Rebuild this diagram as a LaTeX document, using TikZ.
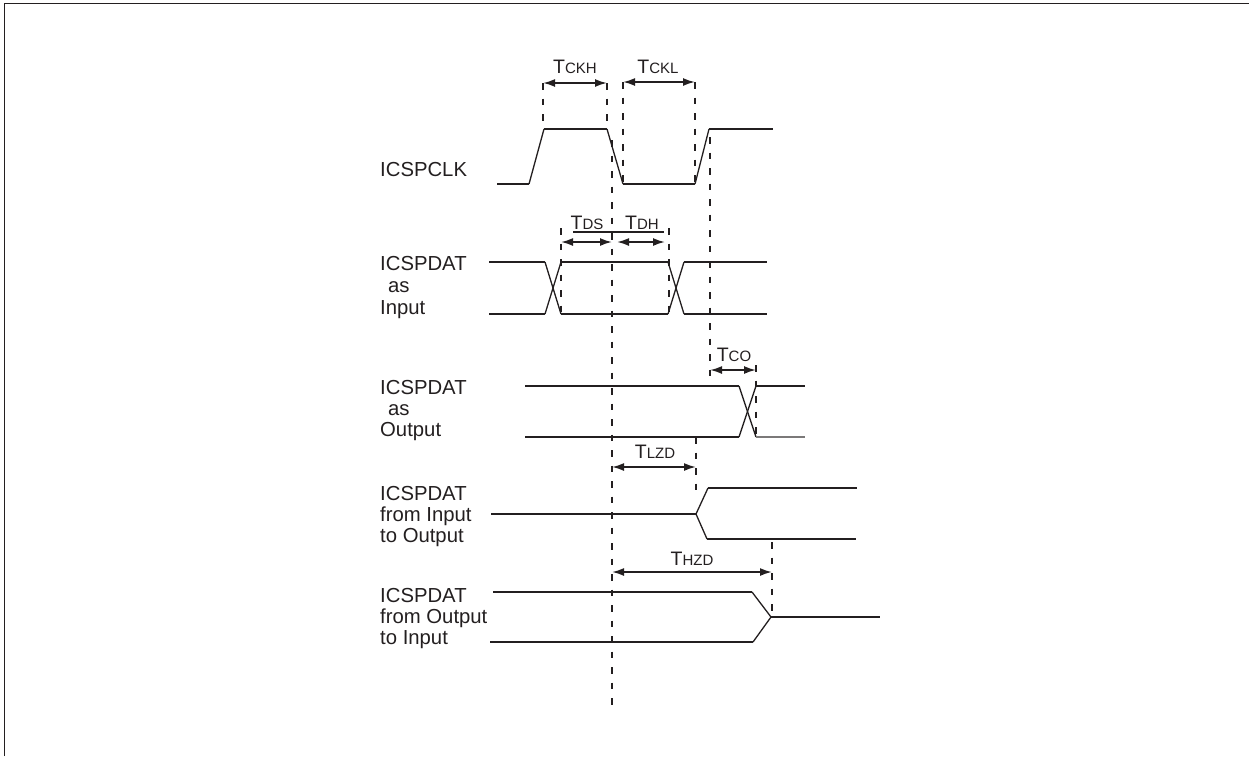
\documentclass[tikz,border=0pt]{standalone}
\usepackage{fontspec}
\setmainfont{Liberation Sans}
\usetikzlibrary{arrows.meta}
\definecolor{ink}{HTML}{231F20}
\tikzset{
  sig/.style={draw=ink, line width=2.1pt},
  edge/.style={draw=ink, line width=1.3pt},
  vdash/.style={draw=ink, line width=2.1pt, dash pattern=on 6.5pt off 9pt},
  dim/.style={draw=ink, line width=1.8pt, {Latex[length=12pt,width=8pt]}-{Latex[length=12pt,width=8pt]}},
  lbl/.style={anchor=base west, inner sep=0pt, text=ink, font=\fontsize{20.3}{22}\selectfont},
  tlbl/.style={anchor=base, inner sep=0pt, text=ink}
}
\newcommand{\tsub}[1]{{\fontsize{19.5}{19.5}\selectfont T\fontsize{15}{15}\selectfont #1}}
\begin{document}
\begin{tikzpicture}[x=1pt,y=-1pt]
\useasboundingbox (0,0) rectangle (1249,756);
% frame
\draw[ink, line width=1.4pt] (4.5,756) -- (4.5,3.5) -- (1249,3.5);

% labels
\node[lbl] (l1) at (380,176) {ICSPCLK};
\node[lbl] (l2a) at (380,270) {ICSPDAT};
\node[lbl] (l2b) at (388,292) {as};
\node[lbl] (l2c) at (380,314) {Input};
\node[lbl] (l3a) at (380,394) {ICSPDAT};
\node[lbl] (l3b) at (388,415) {as};
\node[lbl] (l3c) at (380,436) {Output};
\node[lbl] (l4a) at (380,500) {ICSPDAT};
\node[lbl] (l4b) at (380,521) {from Input};
\node[lbl] (l4c) at (380,542) {to Output};
\node[lbl] (l5a) at (380,602) {ICSPDAT};
\node[lbl] (l5b) at (380,623) {from Output};
\node[lbl] (l5c) at (380,644) {to Input};

% timing labels
\node[tlbl] (tckh) at (575,73) {\tsub{CKH}};
\node[tlbl] (tckl) at (658,73) {\tsub{CKL}};
\node[tlbl] (tds) at (587,229) {\tsub{DS}};
\node[tlbl] (tdh) at (642,229) {\tsub{DH}};
\node[tlbl] (tco) at (734,361) {\tsub{CO}};
\node[tlbl] (tlzd) at (655,458) {\tsub{LZD}};
\node[tlbl] (thzd) at (692,565) {\tsub{HZD}};
\draw[ink, line width=1.6pt] (573,232) -- (664,232);

% dashed guides
\draw[vdash] (612,140) -- (612,705);
\draw[vdash] (543,83) -- (543,129);
\draw[vdash] (607,83) -- (607,129);
\draw[vdash] (623,82) -- (623,184);
\draw[vdash] (695,82) -- (695,184);
\draw[vdash] (710,137) -- (710,387);
\draw[vdash] (561,228) -- (561,317);
\draw[vdash] (669,228) -- (669,317);
\draw[vdash] (756,365) -- (756,440);
\draw[vdash] (696,437) -- (696,493);
\draw[vdash] (772,542) -- (772,617);

% dimension arrows
\draw[dim] (543,83) -- (607,83);
\draw[dim] (623,82) -- (695,82);
\draw[dim] (561,242) -- (612,242);
\draw[dim] (617,242) -- (665,242);
\draw[dim] (710,370) -- (756,370);
\draw[dim] (612,467) -- (696,467);
\draw[dim] (612,572) -- (772,572);

% ICSPCLK
\draw[sig] (497,184) -- (529,184);
\draw[edge] (529,184) -- (544,129);
\draw[sig] (544,129) -- (607,129);
\draw[edge] (607,129) -- (623,184);
\draw[sig] (623,184) -- (695,184);
\draw[edge] (695,184) -- (709,129);
\draw[sig] (709,129) -- (773,129);

% ICSPDAT as Input
\draw[sig] (489,262) -- (545,262);
\draw[sig] (489,314) -- (545,314);
\draw[edge] (545,262) -- (561,314);
\draw[edge] (545,314) -- (561,262);
\draw[sig] (561,262) -- (668,262);
\draw[sig] (561,314) -- (668,314);
\draw[edge] (668,262) -- (684,314);
\draw[edge] (668,314) -- (684,262);
\draw[sig] (684,262) -- (767,262);
\draw[sig] (684,314) -- (767,314);

% ICSPDAT as Output
\draw[sig] (525,386) -- (739,386);
\draw[sig] (525,437) -- (739,437);
\draw[edge] (739,386) -- (756,437);
\draw[edge] (739,437) -- (756,386);
\draw[sig] (756,386) -- (805,386);
\draw[draw=ink!60, line width=1.5pt] (756,437) -- (805,437);

% ICSPDAT from Input to Output
\draw[sig] (491,514) -- (696,514);
\draw[edge] (696,514) -- (708,488);
\draw[edge] (696,514) -- (707,539);
\draw[sig] (708,488) -- (857,488);
\draw[sig] (707,539) -- (856,539);

% ICSPDAT from Output to Input
\draw[sig] (493,592) -- (752,592);
\draw[sig] (490,642) -- (753,642);
\draw[edge] (752,592) -- (771,617);
\draw[edge] (753,642) -- (771,617);
\draw[sig] (771,617) -- (880,617);
\end{tikzpicture}
\end{document}
